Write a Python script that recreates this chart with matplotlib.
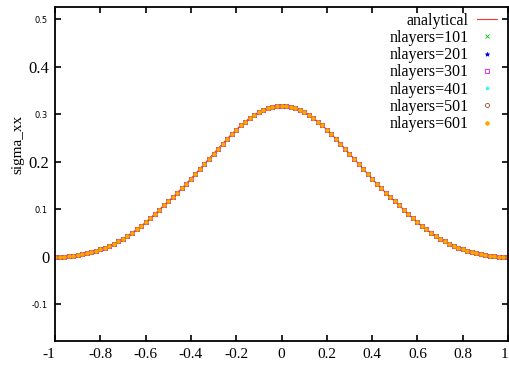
import numpy as np
import matplotlib.pyplot as plt

# x positions of the output points
x = np.linspace(-1.0, 1.0, 101)

# sigma_xx (same curve for every run)
sigma_xx = [
    -0.0004, -0.0002, 0.0003, 0.0011, 0.0022, 0.0036, 0.0053, 0.0073, 0.0097, 0.0125,
    0.0157, 0.0193, 0.0235, 0.0280, 0.0330, 0.0385, 0.0445, 0.0510, 0.0578, 0.0650,
    0.0730, 0.0815, 0.0900, 0.0990, 0.1083, 0.1170, 0.1260, 0.1352, 0.1447, 0.1545,
    0.1646, 0.1750, 0.1855, 0.1961, 0.2068, 0.2175, 0.2281, 0.2385, 0.2487, 0.2585,
    0.2679, 0.2767, 0.2849, 0.2924, 0.2990, 0.3048, 0.3096, 0.3133, 0.3160, 0.3175,
    0.3180,
    0.3175, 0.3160, 0.3133, 0.3096, 0.3048, 0.2990, 0.2924, 0.2849, 0.2767, 0.2679,
    0.2585, 0.2487, 0.2385, 0.2281, 0.2175, 0.2068, 0.1961, 0.1855, 0.1750, 0.1646,
    0.1545, 0.1447, 0.1352, 0.1260, 0.1170, 0.1083, 0.0990, 0.0900, 0.0815, 0.0730,
    0.0650, 0.0578, 0.0510, 0.0445, 0.0385, 0.0330, 0.0280, 0.0235, 0.0193, 0.0157,
    0.0125, 0.0097, 0.0073, 0.0053, 0.0036, 0.0022, 0.0011, 0.0003, -0.0002, -0.0004,
]

nlayers = [101, 201, 301, 401, 501, 601]
markers = ["x", "*", "s", "s", "o", "o"]
filled = [True, True, False, True, False, True]
sizes = [3.0, 3.0, 3.4, 2.0, 3.0, 2.6]
colors = ["#00c000", "#0000ff", "#ff00ff", "#00ffff", "#a0522d", "#ffa500"]

xticks = [-1, -0.8, -0.6, -0.4, -0.2, 0, 0.2, 0.4, 0.6, 0.8, 1]
xticklabels = ["-1", "-0.8", "-0.6", "-0.4", "-0.2", "0", "0.2", "0.4", "0.6", "0.8", "1"]
ymajor = [0, 0.2, 0.4]
ymajorlabels = ["0", "0.2", "0.4"]
yminor = [-0.1, 0.1, 0.3, 0.5]
yminorlabels = ["-0.1", "0.1", "0.3", "0.5"]

serif = ["Liberation Serif", "DejaVu Serif"]

fig = plt.figure(figsize=(5.10, 3.67), dpi=100)
ax = fig.add_axes([55/510, 1 - 341/367, 453/510, 334/367])

ax.plot(x, sigma_xx, color="#ff3030", lw=0.8, label="analytical", zorder=1)
for n, m, f, s, c in zip(nlayers, markers, filled, sizes, colors):
    ax.plot(x, sigma_xx, ls="none", marker=m, ms=s, mew=0.6,
            color=c, mfc=c if f else "none", label=f"nlayers={n}")

ax.set_xlim(-1, 1)
ax.set_ylim(-0.177, 0.526)

ax.set_xticks(xticks)
ax.set_xticklabels(xticklabels, fontfamily=serif, fontsize=11)
xl = ax.get_xticklabels()
xl[0].set_horizontalalignment("right")
xl[-1].set_horizontalalignment("right")
ax.set_yticks(ymajor)
ax.set_yticklabels(ymajorlabels, fontfamily=serif, fontsize=12)
ax.set_yticks(yminor, minor=True)
ax.set_yticklabels(yminorlabels, minor=True, fontfamily="DejaVu Sans", fontsize=6)

ax.tick_params(which="both", direction="in", length=4, width=1.2,
               top=True, right=True)
ax.tick_params(axis="x", pad=5)
ax.tick_params(axis="y", which="major", pad=4)
ax.tick_params(axis="y", which="minor", pad=5)
for sp in ax.spines.values():
    sp.set_linewidth(1.3)

ax.set_ylabel("sigma_xx", fontfamily=serif, fontsize=11)
ax.yaxis.set_label_coords(-0.068, 0.59)

ax.legend(loc="upper right", bbox_to_anchor=(0.989, 1.0), frameon=False,
          markerfirst=False, prop={"family": serif, "size": 11.5},
          handlelength=1.3, handletextpad=0.5, labelspacing=0.08,
          borderaxespad=0.15, borderpad=0.2)

fig.savefig("out.png", dpi=100)
